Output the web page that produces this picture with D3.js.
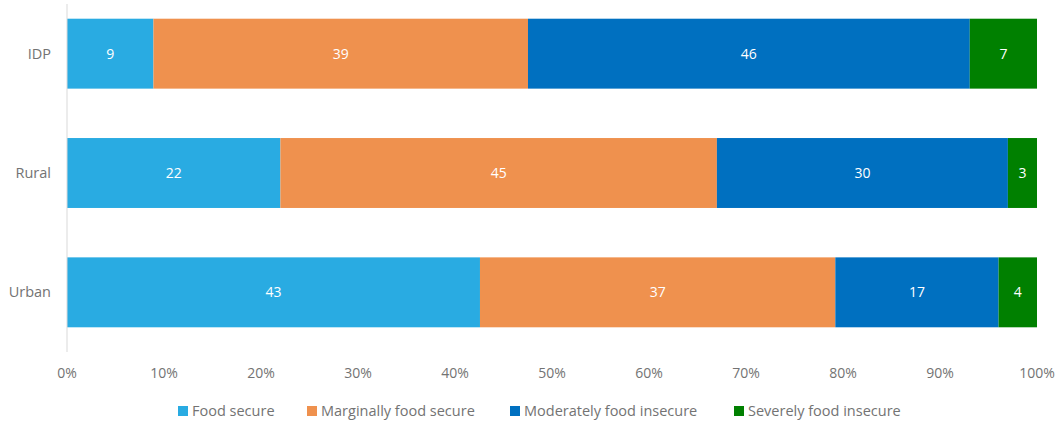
<!DOCTYPE html>
<html>
<head>
<meta charset="utf-8">
<script src="https://cdn.jsdelivr.net/npm/d3@7"></script>
<style>
  body { margin: 0; background: #fff; }
  svg text { font-family: "Open Sans", "Noto Sans", sans-serif; }
</style>
</head>
<body>
<div id="chart"></div>
<script>
// Chart data
const groups = ["IDP", "Rural", "Urban"];
const seriesNames = ["Food secure", "Marginally food secure", "Moderately food insecure", "Severely food insecure"];
const seriesColors = ["#29abe2", "#ef914e", "#0070c0", "#008000"];
const foodSecure = [9, 22, 43];
const marginal = [39, 45, 37];
const moderate = [46, 30, 17];
const severe = [7, 3, 4];
const tickValues = [0, 0.1, 0.2, 0.3, 0.4, 0.5, 0.6, 0.7, 0.8, 0.9, 1];

const width = 1059, height = 423;
const allSeries = [foodSecure, marginal, moderate, severe];
const textColor = "#737373";

const rows = groups.map((g, i) => {
    const row = { group: g };
    seriesNames.forEach((s, j) => row[s] = allSeries[j][i]);
    return row;
});

const svg = d3.select("#chart").append("svg")
    .attr("width", width)
    .attr("height", height);

const x = d3.scaleLinear().domain([0, 1]).range([67, 1037]);
const y = d3.scaleBand()
    .domain(groups)
    .range([-6, 352])
    .paddingInner(0.414)
    .paddingOuter(0.207);

// stack, normalized to 100%
const stacked = d3.stack().keys(seriesNames).offset(d3.stackOffsetExpand)(rows);

const layer = svg.selectAll("g.layer")
    .data(stacked)
    .enter().append("g")
    .attr("class", "layer")
    .attr("fill", (d, i) => seriesColors[i]);

layer.selectAll("rect")
    .data(d => d)
    .enter().append("rect")
    .attr("x", d => x(d[0]))
    .attr("y", d => y(d.data.group))
    .attr("width", d => x(d[1]) - x(d[0]))
    .attr("height", y.bandwidth());

// value labels
stacked.forEach(s => {
    svg.selectAll(null)
        .data(s)
        .enter().append("text")
        .attr("x", d => (x(d[0]) + x(d[1])) / 2)
        .attr("y", d => y(d.data.group) + y.bandwidth() / 2)
        .attr("dy", "0.35em")
        .attr("text-anchor", "middle")
        .attr("font-size", "14px")
        .attr("fill", "#fff")
        .text(d => d.data[s.key]);
});

// vertical axis line
svg.append("line")
    .attr("x1", x(0)).attr("x2", x(0))
    .attr("y1", 4).attr("y2", 352)
    .attr("stroke", "#d9d9d9")
    .attr("stroke-width", 1);

// category labels
svg.selectAll("text.cat")
    .data(groups)
    .enter().append("text")
    .attr("class", "cat")
    .attr("x", 51)
    .attr("y", d => y(d) + y.bandwidth() / 2)
    .attr("dy", "0.35em")
    .attr("text-anchor", "end")
    .attr("font-size", "14.5px")
    .attr("fill", textColor)
    .text(d => d);

// x tick labels
svg.selectAll("text.tick")
    .data(tickValues)
    .enter().append("text")
    .attr("class", "tick")
    .attr("x", d => x(d))
    .attr("y", 373)
    .attr("dy", "0.35em")
    .attr("text-anchor", "middle")
    .attr("font-size", "14px")
    .attr("fill", textColor)
    .text(d3.format(".0%"));

// legend
const legendX = [178, 307, 510, 734];
const legend = svg.selectAll("g.legend")
    .data(seriesNames)
    .enter().append("g")
    .attr("class", "legend")
    .attr("transform", (d, i) => `translate(${legendX[i]}, 411)`);

legend.append("rect")
    .attr("x", 0).attr("y", -5)
    .attr("width", 10).attr("height", 10)
    .attr("fill", (d, i) => seriesColors[i]);

legend.append("text")
    .attr("x", 14)
    .attr("y", 0)
    .attr("dy", "0.35em")
    .attr("font-size", "14.5px")
    .attr("fill", textColor)
    .text(d => d);
</script>
</body>
</html>
